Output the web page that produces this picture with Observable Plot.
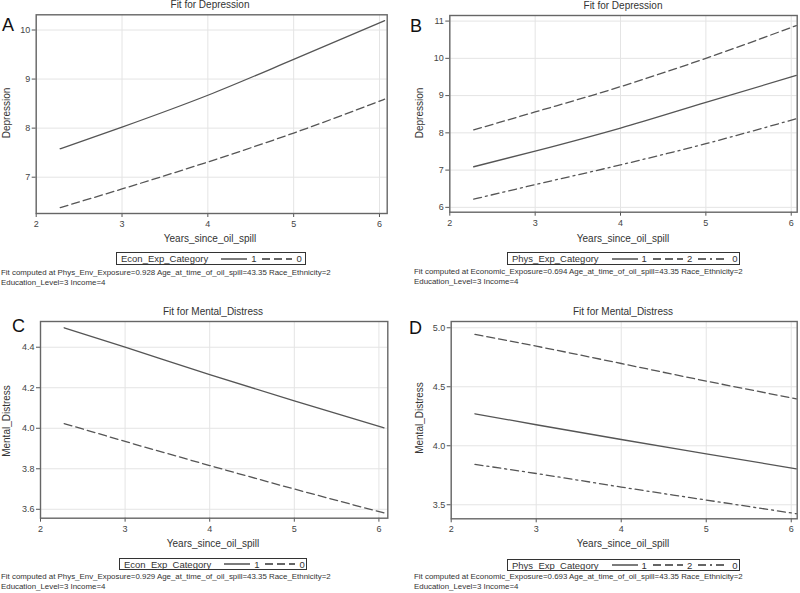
<!DOCTYPE html>
<html>
<head>
<meta charset="utf-8">
<script src="https://cdn.jsdelivr.net/npm/d3@7"></script>
<script src="https://cdn.jsdelivr.net/npm/@observablehq/plot@0.6"></script>
<style>
  body { margin: 0; background: #fff; }
  #root { position: relative; width: 800px; height: 593px; overflow: hidden; font-family: "Liberation Sans", Arial, sans-serif; color: #333; }
  .abs { position: absolute; white-space: nowrap; }
  .title { font-size: 10px; transform: translateX(-50%); color: #333; }
  .letter { font-size: 18px; color: #111; }
  .ylab { font-size: 10px; transform: translate(-50%, -50%) rotate(-90deg); }
  .xlab { font-size: 10px; transform: translateX(-50%); }
  .legend { border: 1px solid #333; font-size: 9.5px; display: flex; align-items: center; box-sizing: border-box; padding-left: 4px; }
  .foot { font-size: 7.9px; line-height: 10px; color: #333; }
  svg.plot { position: absolute; }
</style>
</head>
<body>
<div id="root"></div>
<script>
// ---- data ----
const years = [2.28, 3, 4, 5, 6.06];

const depA_econ1 = [7.58, 8.02, 8.67, 9.40, 10.19];
const depA_econ0 = [6.38, 6.76, 7.31, 7.90, 8.59];

const depB_phys1 = [7.09, 7.51, 8.13, 8.82, 9.54];
const depB_phys2 = [8.08, 8.56, 9.24, 10.00, 10.88];
const depB_phys0 = [6.22, 6.61, 7.14, 7.71, 8.38];

const mdC_econ1 = [4.496, 4.400, 4.265, 4.135, 4.002];
const mdC_econ0 = [4.023, 3.935, 3.816, 3.700, 3.582];

const mdD_phys1 = [4.271, 4.178, 4.053, 3.932, 3.805];
const mdD_phys2 = [4.943, 4.844, 4.697, 4.548, 4.398];
const mdD_phys0 = [3.842, 3.765, 3.650, 3.540, 3.424];

const xTicks = [2, 3, 4, 5, 6];
const yTicksA = [7, 8, 9, 10];
const yTicksB = [6, 7, 8, 9, 10, 11];
const yTicksC = [3.6, 3.8, 4.0, 4.2, 4.4];
const yTicksD = [3.5, 4.0, 4.5, 5.0];

const footA = ["Fit computed at Phys_Env_Exposure=0.928 Age_at_time_of_oil_spill=43.35 Race_Ethnicity=2", "Education_Level=3 Income=4"];
const footB = ["Fit computed at Economic_Exposure=0.694 Age_at_time_of_oil_spill=43.35 Race_Ethnicity=2", "Education_Level=3 Income=4"];
const footC = ["Fit computed at Phys_Env_Exposure=0.929 Age_at_time_of_oil_spill=43.35 Race_Ethnicity=2", "Education_Level=3 Income=4"];
const footD = ["Fit computed at Economic_Exposure=0.693 Age_at_time_of_oil_spill=43.35 Race_Ethnicity=2", "Education_Level=3 Income=4"];

const DASH = { solid: null, dash: "8,4", dashdot: "8,4,2,4" };
const LINE_COLOR = "#555";

const root = document.getElementById("root");

function addDiv(cls, text, style) {
  const d = document.createElement("div");
  d.className = "abs " + cls;
  d.textContent = text;
  Object.assign(d.style, style);
  root.appendChild(d);
  return d;
}

function swatch(dash, w, ml) {
  const svg = d3.create("svg").attr("width", w).attr("height", 8)
    .style("margin-left", ml + "px").style("margin-right", "4px");
  svg.append("line").attr("x1", 0).attr("x2", w).attr("y1", 4).attr("y2", 4)
    .attr("stroke", "#333").attr("stroke-width", 1.3)
    .attr("stroke-dasharray", dash || null);
  return svg.node();
}

function panel(p) {
  const svgLeft = p.cellX, svgTop = p.cellY, W = 400, H = 235;
  const marks = [
    Plot.gridX(xTicks, { stroke: "#e4e4e4", strokeOpacity: 1 }),
    Plot.gridY(p.yTicks, { stroke: "#e4e4e4", strokeOpacity: 1 }),
    Plot.axisX(xTicks, { tickSize: 4, tickPadding: 3, label: null, stroke: "#555", fill: "#444", fontSize: 9, tickFormat: d3.format("d") }),
    Plot.axisY(p.yTicks, { tickSize: 4, tickPadding: 2, label: null, stroke: "#555", fill: "#444", fontSize: 9, tickFormat: p.fmt }),
    ...p.series.map(s => Plot.line(years.map((x, i) => ({ x, y: s.values[i] })), {
      x: "x", y: "y", stroke: LINE_COLOR, strokeWidth: 1.3, curve: "monotone-x",
      strokeDasharray: DASH[s.style]
    })),
    Plot.frame({ stroke: "#666", strokeWidth: 1.4 })
  ];
  const chart = Plot.plot({
    width: W, height: H,
    marginLeft: p.frame.L - svgLeft,
    marginRight: svgLeft + W - p.frame.R,
    marginTop: p.frame.T - svgTop,
    marginBottom: svgTop + H - p.frame.B,
    x: { domain: p.xDomain },
    y: { domain: p.yDomain },
    style: { fontFamily: "Liberation Sans, Arial, sans-serif", fontSize: "9px", background: "transparent", overflow: "visible" },
    marks
  });
  chart.classList.add("plot");
  chart.style.left = svgLeft + "px";
  chart.style.top = svgTop + "px";
  root.appendChild(chart);

  addDiv("title", p.title, { left: p.titleX + "px", top: p.titleY + "px" });
  addDiv("letter", p.letter, { left: p.letterX + "px", top: p.letterY + "px" });
  addDiv("ylab", p.ylab, { left: p.ylabX + "px", top: p.ylabY + "px" });
  addDiv("xlab", "Years_since_oil_spill", { left: p.titleX + "px", top: p.xlabY + "px" });

  const lg = addDiv("legend", "", { left: p.legend.x + "px", top: p.legend.y + "px", width: p.legend.w + "px", height: p.legend.h + "px" });
  const nm = document.createElement("span");
  nm.textContent = p.legendTitle;
  lg.appendChild(nm);
  p.series.forEach((s, i) => {
    lg.appendChild(swatch(DASH[s.style], i === 0 ? 26 : 30, i === 0 ? 13 : 6));
    const t = document.createElement("span");
    t.textContent = s.name;
    lg.appendChild(t);
  });

  const f = addDiv("foot", "", { left: p.footX + "px", top: p.footY + "px" });
  f.innerHTML = p.foot.join("<br>");
}

panel({
  cellX: 0, cellY: 0, letter: "A", title: "Fit for Depression", ylab: "Depression",
  frame: { L: 35.7, R: 386.7, T: 14.3, B: 213 },
  xDomain: [2, 6.09], yDomain: [6.26, 10.31], yTicks: yTicksA, fmt: d3.format("d"),
  series: [{ name: "1", values: depA_econ1, style: "solid" }, { name: "0", values: depA_econ0, style: "dash" }],
  titleX: 210, titleY: -1, letterX: 2, letterY: 15, ylabX: 6, ylabY: 113, xlabY: 233,
  legend: { x: 116, y: 252, w: 190, h: 13 }, legendTitle: "Econ_Exp_Category",
  foot: footA, footX: 1, footY: 268
});

panel({
  cellX: 400, cellY: 0, letter: "B", title: "Fit for Depression", ylab: "Depression",
  frame: { L: 449.3, R: 796.7, T: 15, B: 211.7 },
  xDomain: [2, 6.07], yDomain: [5.87, 11.15], yTicks: yTicksB, fmt: d3.format("d"),
  series: [{ name: "1", values: depB_phys1, style: "solid" }, { name: "2", values: depB_phys2, style: "dash" }, { name: "0", values: depB_phys0, style: "dashdot" }],
  titleX: 623, titleY: 0, letterX: 410, letterY: 16, ylabX: 419, ylabY: 113, xlabY: 233,
  legend: { x: 507, y: 252, w: 233, h: 13 }, legendTitle: "Phys_Exp_Category",
  foot: footB, footX: 414, footY: 267
});

panel({
  cellX: 0, cellY: 296, letter: "C", title: "Fit for Mental_Distress", ylab: "Mental_Distress",
  frame: { L: 40, R: 387.3, T: 321, B: 517.7 },
  xDomain: [2, 6.105], yDomain: [3.556, 4.527], yTicks: yTicksC, fmt: d3.format(".1f"),
  series: [{ name: "1", values: mdC_econ1, style: "solid" }, { name: "0", values: mdC_econ0, style: "dash" }],
  titleX: 213, titleY: 306, letterX: 12, letterY: 316, ylabX: 6, ylabY: 421, xlabY: 538,
  legend: { x: 119, y: 558, w: 188, h: 12 }, legendTitle: "Econ_Exp_Category",
  foot: footC, footX: 1, footY: 572
});

panel({
  cellX: 400, cellY: 296, letter: "D", title: "Fit for Mental_Distress", ylab: "Mental_Distress",
  frame: { L: 450.7, R: 796.7, T: 321, B: 518.3 },
  xDomain: [2, 6.07], yDomain: [3.381, 5.053], yTicks: yTicksD, fmt: d3.format(".1f"),
  series: [{ name: "1", values: mdD_phys1, style: "solid" }, { name: "2", values: mdD_phys2, style: "dash" }, { name: "0", values: mdD_phys0, style: "dashdot" }],
  titleX: 623, titleY: 306, letterX: 409, letterY: 318, ylabX: 419, ylabY: 418, xlabY: 538,
  legend: { x: 507, y: 559, w: 233, h: 12 }, legendTitle: "Phys_Exp_Category",
  foot: footD, footX: 414, footY: 572
});
</script>
</body>
</html>
